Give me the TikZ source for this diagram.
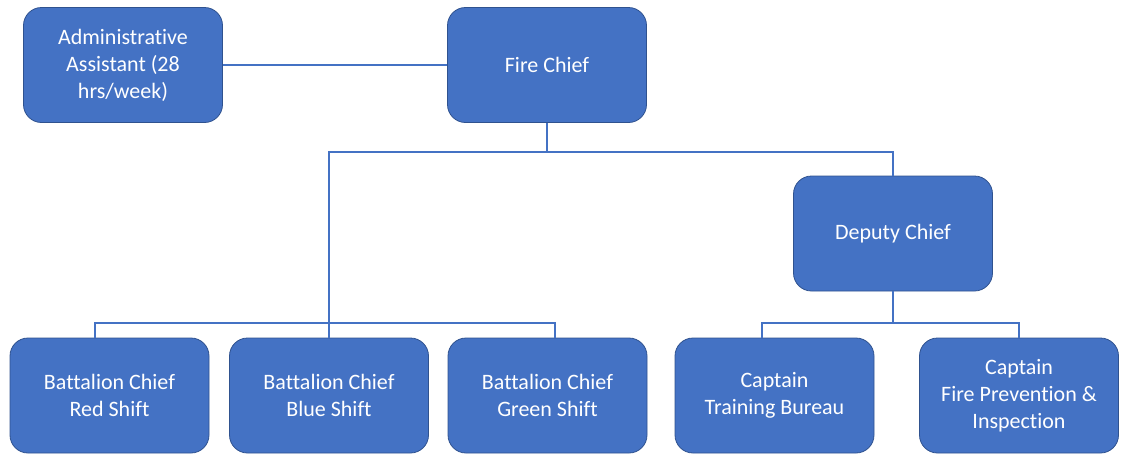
\documentclass[tikz,border=0pt]{standalone}
\usepackage{fontspec}
\setmainfont{Carlito}[Ligatures={NoCommon}]
\definecolor{boxfill}{HTML}{4472C4}
\definecolor{boxedge}{HTML}{2F528F}
\definecolor{linec}{HTML}{4472C4}
\begin{document}
\begin{tikzpicture}[x=1pt,y=-1pt,
  orgbox/.style={draw=boxedge, line width=0.8pt, fill=boxfill, rounded corners=18pt,
    minimum width=199pt, minimum height=115pt, text=white, align=center,
    font=\fontsize{22}{27}\selectfont, inner sep=0pt},
  conn/.style={draw=linec, line width=1.5pt}]
\useasboundingbox (0,0) rectangle (1121,453);
\node[orgbox] (admin) at (123,65) {Administrative\\Assistant (28\\hrs/week)};
\node[orgbox] (chief) at (547,65) {Fire Chief};
\node[orgbox] (deputy) at (893,233.5) {Deputy Chief};
\node[orgbox] (red) at (109.5,395.5) {Battalion Chief\\Red Shift};
\node[orgbox] (blue) at (329,395.5) {Battalion Chief\\Blue Shift};
\node[orgbox] (green) at (547.5,395.5) {Battalion Chief\\Green Shift};
\node[orgbox] (train) at (774.5,395.5) {Captain\\Training Bureau};
\node[orgbox] (prev) at (1019,395.5) {Captain\\Fire Prevention \&\\Inspection};
\coordinate (j1) at (547,152);
\coordinate (j2) at (329,323);
\coordinate (j3) at (893,323);
\draw[conn] (admin.east) -- (chief.west);
\draw[conn] (chief.south) -- (j1) -| (deputy.north);
\draw[conn] (j1) -| (blue.north);
\draw[conn] (j2) -| ([xshift=-14.5pt]red.north);
\draw[conn] (j2) -| ([xshift=7.5pt]green.north);
\draw[conn] (deputy.south) -- (j3) -| ([xshift=-12.5pt]train.north);
\draw[conn] (j3) -| (prev.north);
\end{tikzpicture}
\end{document}
